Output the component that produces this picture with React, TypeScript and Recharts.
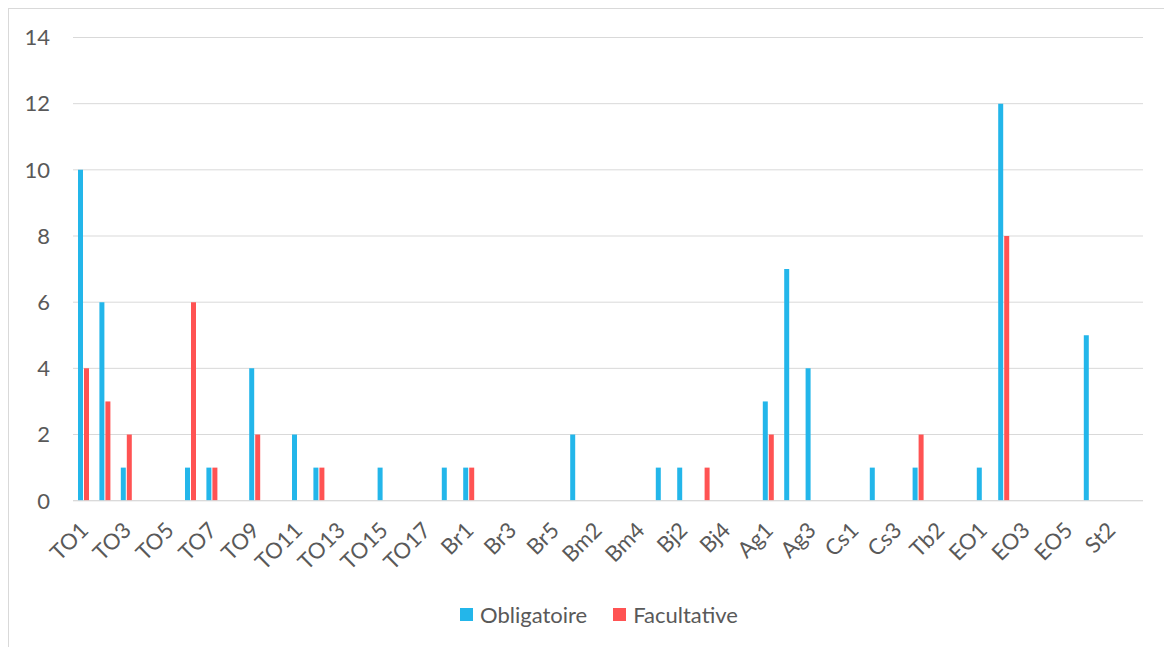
import { BarChart, Bar, XAxis, YAxis, CartesianGrid, Legend } from 'recharts';

const categories = [
  'TO1', 'TO2', 'TO3', 'TO4', 'TO5', 'TO6', 'TO7', 'TO8', 'TO9', 'TO10',
  'TO11', 'TO12', 'TO13', 'TO14', 'TO15', 'TO16', 'TO17', 'TO18',
  'Br1', 'Br2', 'Br3', 'Br4', 'Br5',
  'Bm1', 'Bm2', 'Bm3', 'Bm4',
  'Bj1', 'Bj2', 'Bj3', 'Bj4', 'Bj5',
  'Ag1', 'Ag2', 'Ag3', 'Ag4',
  'Cs1', 'Cs2', 'Cs3',
  'Tb1', 'Tb2', 'Tb3',
  'EO1', 'EO2', 'EO3', 'EO4', 'EO5',
  'St1', 'St2', 'St3',
];

const obligatoire = [
  10, 6, 1, 0, 0, 1, 1, 0, 4, 0,
  2, 1, 0, 0, 1, 0, 0, 1,
  1, 0, 0, 0, 0,
  2, 0, 0, 0,
  1, 1, 0, 0, 0,
  3, 7, 4, 0,
  0, 1, 0,
  1, 0, 0,
  1, 12, 0, 0, 0,
  5, 0, 0,
];

const facultative = [
  4, 3, 2, 0, 0, 6, 1, 0, 2, 0,
  0, 1, 0, 0, 0, 0, 0, 0,
  1, 0, 0, 0, 0,
  0, 0, 0, 0,
  0, 0, 1, 0, 0,
  2, 0, 0, 0,
  0, 0, 0,
  2, 0, 0,
  0, 8, 0, 0, 0,
  0, 0, 0,
];

const seriesNames = ['Obligatoire', 'Facultative'];
const yTicks = [0, 2, 4, 6, 8, 10, 12, 14];

const BLUE = '#23b6ea';
const RED = '#ff5353';
const TEXT = '#595959';
const GRID = '#d9d9d9';
const FONT = 'Lato, "Open Sans", sans-serif';

const data = categories.map((name, i) => ({
  name,
  Obligatoire: obligatoire[i],
  Facultative: facultative[i],
}));

function XTick({ x, y, payload }: any) {
  return (
    <text
      transform={`translate(${x + 6},${y + 29}) rotate(-45)`}
      textAnchor="end"
      fill={TEXT}
      fontSize={22}
      fontFamily={FONT}
    >
      {payload.value}
    </text>
  );
}

// keep the series order rather than the legend's alphabetical sort
function LegendRow({ payload }: any) {
  const items = seriesNames
    .map((n) => (payload || []).find((p: any) => p.value === n))
    .filter(Boolean);
  return (
    <div style={{ display: 'flex', alignItems: 'center', height: 24, fontFamily: FONT, fontSize: 22, color: TEXT }}>
      {items.map((p: any, i: number) => (
        <div key={p.value} style={{ display: 'flex', alignItems: 'center', marginLeft: i ? 26 : 0 }}>
          <span style={{ width: 13, height: 13, background: p.color, marginRight: 7, display: 'inline-block' }} />
          <span>{p.value}</span>
        </div>
      ))}
    </div>
  );
}

export default function App() {
  return (
    <div
      style={{
        width: 1164,
        height: 639,
        borderTop: `1px solid ${GRID}`,
        borderLeft: `1px solid ${GRID}`,
        boxSizing: 'border-box',
        overflow: 'hidden',
        background: '#fff',
      }}
    >
      <BarChart
        width={1163}
        height={638}
        data={data}
        margin={{ top: 28.5, right: 29, bottom: 46.3, left: 0 }}
        barSize={5}
        barGap={1}
      >
        <CartesianGrid vertical={false} stroke={GRID} />
        <XAxis
          dataKey="name"
          interval={1}
          height={100}
          tickLine={false}
          tickSize={0}
          axisLine={{ stroke: GRID }}
          tick={<XTick />}
        />
        <YAxis
          width={64}
          domain={[0, 14]}
          ticks={yTicks}
          axisLine={false}
          tickLine={false}
          tickSize={0}
          tickMargin={23}
          tick={{ fill: TEXT, fontSize: 22, fontFamily: FONT }}
        />
        <Legend
          layout="horizontal"
          verticalAlign="middle"
          content={<LegendRow />}
          wrapperStyle={{ top: 593, left: 451, width: 'auto' }}
        />
        <Bar dataKey="Obligatoire" fill={BLUE} isAnimationActive={false} />
        <Bar dataKey="Facultative" fill={RED} isAnimationActive={false} />
      </BarChart>
    </div>
  );
}
